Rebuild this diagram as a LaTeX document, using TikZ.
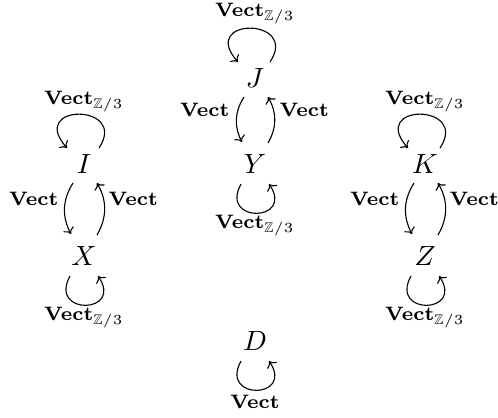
\documentclass[tikz,border=0pt]{standalone}
\usepackage{amssymb}
\usetikzlibrary{arrows.meta}
\begin{document}
\begin{tikzpicture}[x=0.36pt,y=-0.36pt,
  obj/.style={inner sep=0pt},
  lab/.style={inner sep=0pt,font=\scriptsize,anchor=mid},
  arr/.style={-{Computer Modern Rightarrow[length=2.1pt,width=4.2pt]},line width=0.4pt}]
\useasboundingbox (0,0) rectangle (498,417);
% objects
\node[obj] (J) at (255,78) {$J$};
\node[obj] (Y) at (255,164) {$Y$};
\node[obj] (I) at (84,164) {$I$};
\node[obj] (X) at (84,256) {$X$};
\node[obj] (K) at (425,164) {$K$};
\node[obj] (Z) at (425,256) {$Z$};
\node[obj] (D) at (255,341) {$D$};
% loops above
\foreach \n in {J,I,K}{
  \draw[arr] ([shift={(15,-16)}]\n.center) .. controls +(30,-45) and +(-40,-45) .. ([shift={(-17,-16)}]\n.center);
}
\node[lab] (lJ) at ([shift={(0,-67)}]J.center) {$\mathbf{Vect}_{\mathbb{Z}/3}$};
\node[lab] (lI) at ([shift={(0,-65)}]I.center) {$\mathbf{Vect}_{\mathbb{Z}/3}$};
\node[lab] (lK) at ([shift={(0,-65)}]K.center) {$\mathbf{Vect}_{\mathbb{Z}/3}$};
% loops below
\foreach \n in {Y,X,Z,D}{
  \draw[arr] ([shift={(-14,20)}]\n.center) .. controls +(-22,40) and +(26,38) .. ([shift={(14,20)}]\n.center);
}
\node[lab] (lY) at ([shift={(0,59)}]Y.center) {$\mathbf{Vect}_{\mathbb{Z}/3}$};
\node[lab] (lX) at ([shift={(0,59)}]X.center) {$\mathbf{Vect}_{\mathbb{Z}/3}$};
\node[lab] (lZ) at ([shift={(0,59)}]Z.center) {$\mathbf{Vect}_{\mathbb{Z}/3}$};
\node[lab] (lD) at ([shift={(0,62)}]D.center) {$\mathbf{Vect}$};
% vertical pairs
\foreach \a/\b in {J/Y,I/X,K/Z}{
  \draw[arr] ([shift={(-11,19)}]\a.center) to[bend right=30] ([shift={(-13,-22)}]\b.center);
  \draw[arr] ([shift={(13,-21)}]\b.center) to[bend right=30] ([shift={(13,19)}]\a.center);
  \path (\a.center) -- (\b.center) coordinate[pos=0.5] (m\a);
  \node[lab,anchor=east] (sl\a) at ([shift={(-25,-11)}]m\a) {$\mathbf{Vect}$};
  \node[lab,anchor=west] (sr\a) at ([shift={(24,-11)}]m\a) {$\mathbf{Vect}$};
}
\end{tikzpicture}
\end{document}
